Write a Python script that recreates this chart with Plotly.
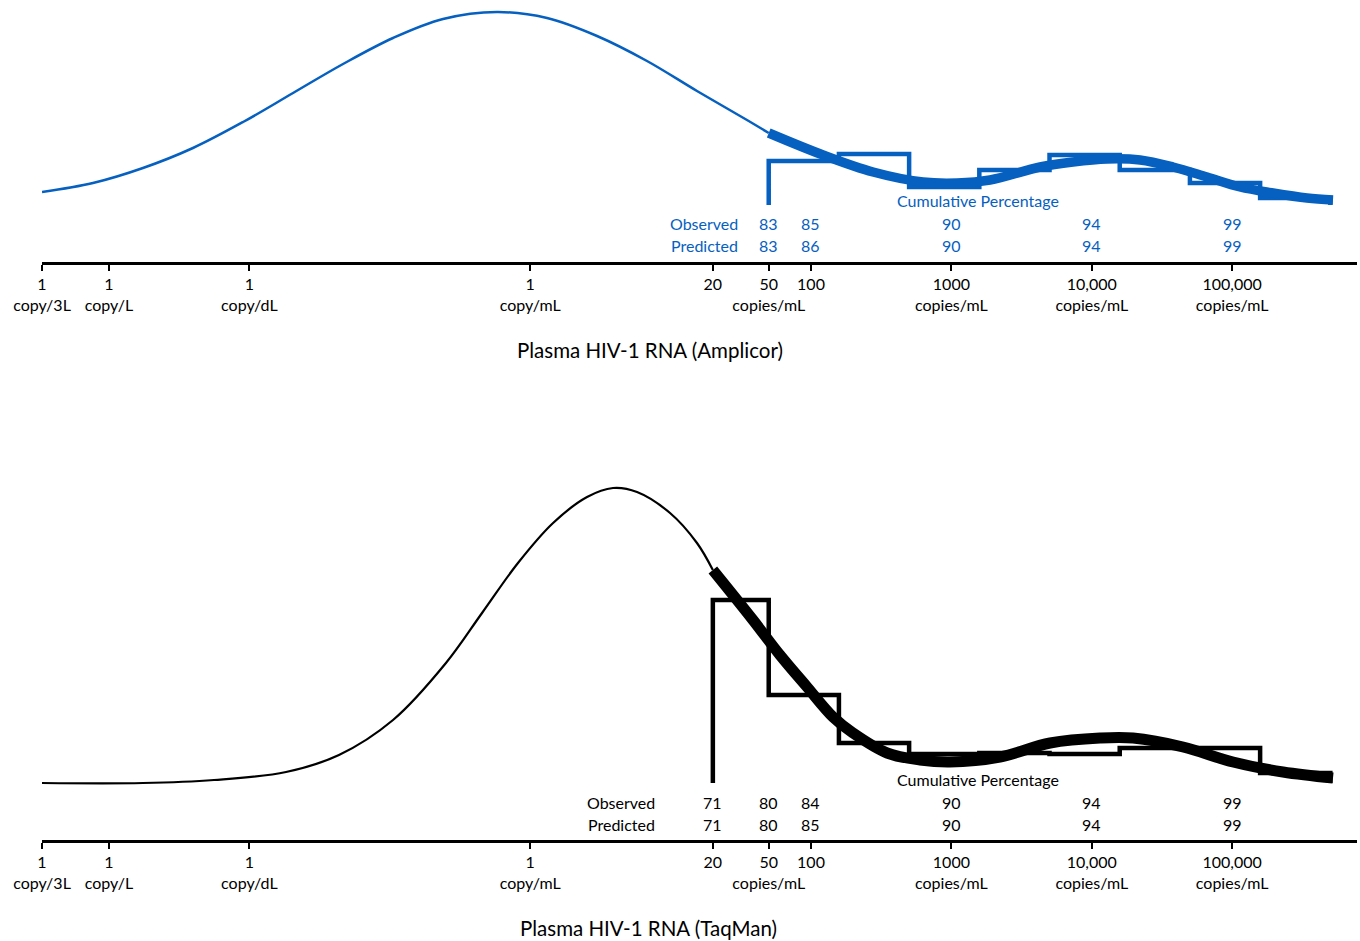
import math
import plotly.graph_objects as go

# ---------------- data (x in copies/mL, y in relative density units) ----------------
tick_vals = [1/3000, 0.001, 0.01, 1, 20, 50, 100, 1000, 10000, 100000]
tick_text = ["1<br>copy/3L", "1<br>copy/L", "1<br>copy/dL", "1<br>copy/mL", "20",
             "50<br>copies/mL", "100", "1000<br>copies/mL", "10,000<br>copies/mL",
             "100,000<br>copies/mL"]

# Amplicor panel (log10 copies/mL, relative density)
amp_thin_logx = [-3.477, -3.114, -2.758, -2.402, -2.045, -1.689, -1.333, -0.977, -0.621,
                 -0.236, 0.120, 0.476, 0.832, 1.188, 1.544, 1.699]
amp_thin_y = [13, 22, 37, 57, 83, 112, 141, 167, 186, 193, 187, 169, 144, 114, 85, 72]
amp_thick_logx = [1.699, 2.086, 2.442, 2.798, 3.040, 3.275, 3.631, 3.866, 4.109, 4.344,
                  4.579, 4.821, 5.056, 5.291, 5.533, 5.718]
amp_thick_y = [72, 50, 33, 23, 22, 25, 38, 43, 46, 45, 38, 28, 18, 12, 7, 5]
amp_bin_edges = [50, 158.1, 500, 1581, 5000, 15811, 50000, 158114, 500000]
amp_bin_heights = [44, 51, 18, 35, 50, 35, 22, 7]
amp_cum_x = [50, 100, 1000, 10000, 100000]
amp_observed = ["83", "85", "90", "94", "99"]
amp_predicted = ["83", "86", "90", "94", "99"]

# TaqMan panel
taq_thin_logx = [-3.477, -2.758, -2.252, -1.739, -1.362, -0.977, -0.600, -0.343, -0.087,
                 0.163, 0.405, 0.590, 0.761, 0.996, 1.188, 1.301]
taq_thin_y = [0, 0, 3, 11, 28, 63, 120, 170, 220, 260, 286, 295, 291, 270, 240, 213]
taq_thick_logx = [1.301, 1.587, 1.779, 1.972, 2.157, 2.299, 2.542, 2.777, 2.990,
                  3.346, 3.703, 4.059, 4.294, 4.650, 5.006, 5.362, 5.718]
taq_thick_y = [213, 163, 128, 96, 66, 50, 30, 23, 21, 26, 40, 45, 45, 36, 21, 11, 5]
taq_bin_edges = [20, 50, 158.1, 500, 1581, 5000, 15811, 50000, 158114, 500000]
taq_bin_heights = [183, 88, 40, 29, 30, 29, 35, 35, 10]
taq_cum_x = [20, 50, 100, 1000, 10000, 100000]
taq_observed = ["71", "80", "84", "90", "94", "99"]
taq_predicted = ["71", "80", "85", "90", "94", "99"]

# ---------------- styling ----------------
BLUE = "#0660C0"
BLACK = "#000000"
FONT = "Lato"
W, H = 1360, 941
ML, MR = 42, 3
PX_PER_DECADE = 140.4
X0 = math.log10(1/3000)
XRANGE = [X0, X0 + (W - ML - MR) / PX_PER_DECADE]
TXT = 16


def step_outline(edges, heights):
    xs = [edges[0]] + edges[:-1] + [edges[-1], edges[-1]]
    ys = [0] + heights + [heights[-1], 0]
    return xs, ys


fig = go.Figure()


def add_panel(xa, ya, thin_lx, thin_y, thick_lx, thick_y, edges, heights, color,
              thin_w, thick_w):
    hx, hy = step_outline(edges, heights)
    fig.add_trace(go.Scatter(x=hx, y=hy, mode="lines", line=dict(color=color, width=4.5, shape="hv"),
                             xaxis=xa, yaxis=ya, hoverinfo="skip"))
    fig.add_trace(go.Scatter(x=[10 ** v for v in thin_lx], y=thin_y, mode="lines",
                             line=dict(color=color, width=thin_w, shape="spline", smoothing=1.0),
                             xaxis=xa, yaxis=ya, hoverinfo="skip"))
    fig.add_trace(go.Scatter(x=[10 ** v for v in thick_lx], y=thick_y, mode="lines",
                             line=dict(color=color, width=thick_w, shape="spline", smoothing=1.0),
                             xaxis=xa, yaxis=ya, hoverinfo="skip"))


add_panel("x", "y", amp_thin_logx, amp_thin_y, amp_thick_logx, amp_thick_y,
          amp_bin_edges, amp_bin_heights, BLUE, 2.5, 9.5)
add_panel("x2", "y2", taq_thin_logx, taq_thin_y, taq_thick_logx, taq_thick_y,
          taq_bin_edges, taq_bin_heights, BLACK, 2.2, 11)

xaxis_common = dict(type="log", range=XRANGE, tickmode="array", tickvals=tick_vals,
                    ticktext=tick_text, showline=True, linecolor="black", linewidth=2.5,
                    ticks="outside", ticklen=6, tickwidth=2, tickcolor="black",
                    showgrid=False, zeroline=False, tickangle=0, automargin=False,
                    fixedrange=True,
                    tickfont=dict(family=FONT, size=TXT, color="black"))
yaxis_common = dict(showticklabels=False, showgrid=False, zeroline=False, showline=False,
                    ticks="", automargin=False, fixedrange=True)

fig.update_layout(
    width=W, height=H,
    margin=dict(l=ML, r=MR, t=0, b=0, autoexpand=False),
    paper_bgcolor="white", plot_bgcolor="white",
    showlegend=False,
    xaxis=dict(**xaxis_common, anchor="y"),
    yaxis=dict(**yaxis_common, domain=[1 - 262 / H, 1 - 5 / H], range=[-57, 200]),
    xaxis2=dict(**xaxis_common, anchor="y2"),
    yaxis2=dict(**yaxis_common, domain=[1 - 840 / H, 1 - 470 / H], range=[-57, 313]),
)

ann = []


def add_rows(xref, yref, cum_x, obs, pred, label_right_log, color):
    for xv, o, p in zip(cum_x, obs, pred):
        ann.append(dict(x=math.log10(xv), y=-19, xref=xref, yref=yref, text=o, showarrow=False,
                        xanchor="center", yanchor="middle",
                        font=dict(family=FONT, size=TXT, color=color)))
        ann.append(dict(x=math.log10(xv), y=-41, xref=xref, yref=yref, text=p, showarrow=False,
                        xanchor="center", yanchor="middle",
                        font=dict(family=FONT, size=TXT, color=color)))
    ann.append(dict(x=label_right_log, y=-19, xref=xref, yref=yref, text="Observed",
                    showarrow=False, xanchor="right", yanchor="middle",
                    font=dict(family=FONT, size=TXT, color=color)))
    ann.append(dict(x=label_right_log, y=-41, xref=xref, yref=yref, text="Predicted",
                    showarrow=False, xanchor="right", yanchor="middle",
                    font=dict(family=FONT, size=TXT, color=color)))
    ann.append(dict(x=3.190, y=4, xref=xref, yref=yref, text="Cumulative Percentage",
                    showarrow=False, xanchor="center", yanchor="middle",
                    font=dict(family=FONT, size=TXT, color=color)))


add_rows("x", "y", amp_cum_x, amp_observed, amp_predicted, 1.494, BLUE)
add_rows("x2", "y2", taq_cum_x, taq_observed, taq_predicted, 0.903, BLACK)

ann.append(dict(x=(650 - ML) / (W - ML - MR), y=1 - 350 / H, xref="paper", yref="paper",
                text="Plasma HIV-1 RNA (Amplicor)", showarrow=False, xanchor="center",
                yanchor="middle", font=dict(family=FONT, size=20.5, color="black")))
ann.append(dict(x=(648 - ML) / (W - ML - MR), y=1 - 928 / H, xref="paper", yref="paper",
                text="Plasma HIV-1 RNA (TaqMan)", showarrow=False, xanchor="center",
                yanchor="middle", font=dict(family=FONT, size=20.5, color="black")))

fig.update_layout(annotations=ann)
fig.write_html("out.html", config={"displayModeBar": False},
               post_script="document.body.style.margin='0';document.body.style.overflow='hidden';")
